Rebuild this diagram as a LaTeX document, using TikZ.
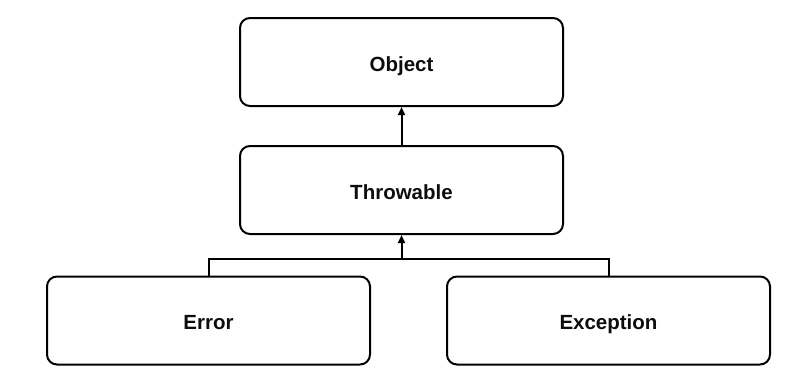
\documentclass[tikz,border=0pt]{standalone}
\usepackage{fontspec}
\setmainfont{Liberation Sans}
\usetikzlibrary{arrows.meta,calc}
\definecolor{LineClr}{rgb}{0,0,0}
\definecolor{TextClr}{rgb}{0.05,0.05,0.05}

\begin{document}
\begin{tikzpicture}[x=1pt,y=-1pt,
  classbox/.style={draw=LineClr,line width=2pt,rounded corners=10pt,
    minimum width=323pt,minimum height=88pt,inner sep=0pt,
    text height=18.5pt,text depth=0pt,
    font=\fontsize{20.5}{23}\selectfont\bfseries,text=TextClr},
  link/.style={draw=LineClr,line width=2pt},
  inherit/.style={link,-{Triangle[width=7pt,length=8pt]}}]
\useasboundingbox (0,0) rectangle (803,383);

\node[classbox] (obj) at (401.5,62) {Object};
\node[classbox] (thr) at (401.5,190) {Throwable};
\node[classbox] (err) at (208.5,320.5) {Error};
\node[classbox] (exc) at (608.5,320.5) {Exception};

\coordinate (split) at (401.5,259);

\draw[inherit] (thr) -- (obj);
\draw[link] (err.north) -- (err.north |- split) -| (exc.north);
\draw[inherit] (split) -- (thr.south);

\end{tikzpicture}
\end{document}
